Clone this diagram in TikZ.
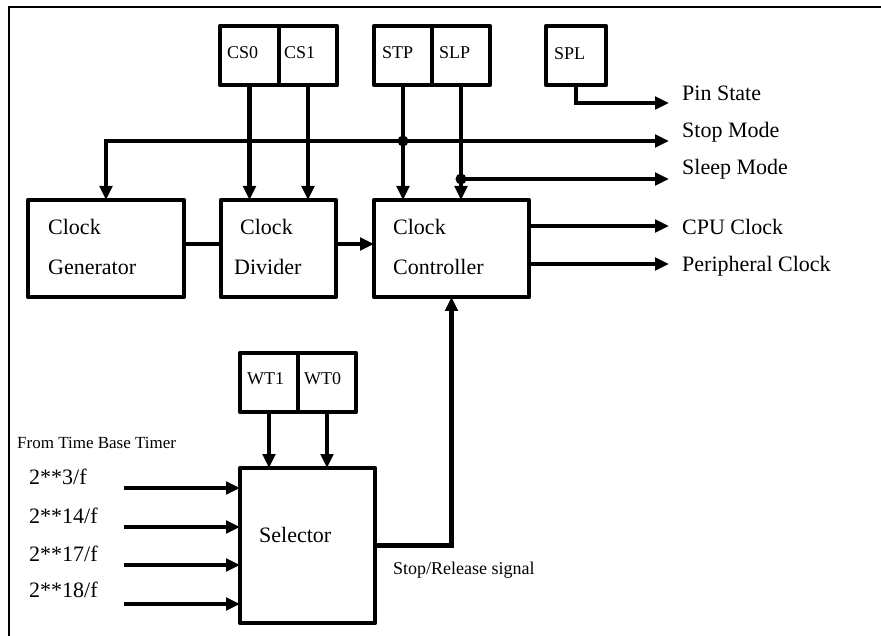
\documentclass[tikz,border=0pt]{standalone}
\usepackage{fontspec}
\setmainfont{Liberation Serif}
\usetikzlibrary{arrows.meta}
\begin{document}
\begin{tikzpicture}[x=1pt,y=-1pt,
  wire/.style={line width=4.5pt},
  sig/.style={wire,-{Triangle[length=14pt,width=12.5pt]}},
  blk/.style={draw,line width=4.5pt,line join=round,rectangle,inner sep=0pt,outer sep=0pt,anchor=north west},
  big/.style={inner sep=0pt,anchor=west,font=\fontsize{22}{26}\selectfont},
  small/.style={inner sep=0pt,anchor=west,font=\fontsize{18}{21}\selectfont},
  dot/.style={fill=black}
]
\useasboundingbox (0,0) rectangle (881,636);
% outer frame (top and left edges)
\draw[line width=2pt] (881,7) -- (9,7) -- (9,636);

% main blocks
\node[blk,minimum width=156pt,minimum height=97pt] (cg)  at (28,200)  {};
\node[blk,minimum width=115pt,minimum height=97pt] (cd)  at (221,200) {};
\node[blk,minimum width=155pt,minimum height=97pt] (cc)  at (374,200) {};
\node[blk,minimum width=135pt,minimum height=155pt] (sel) at (240,468) {};

% register bits
\node[blk,minimum width=59pt,minimum height=59pt] (cs0) at (220,26) {};
\node[blk,minimum width=58pt,minimum height=59pt] (cs1) at (279,26) {};
\node[blk,minimum width=58pt,minimum height=59pt] (stp) at (374,26) {};
\node[blk,minimum width=58pt,minimum height=59pt] (slp) at (432,26) {};
\node[blk,minimum width=60pt,minimum height=59pt] (spl) at (546,26) {};
\node[blk,minimum width=58pt,minimum height=59pt] (wt1) at (240,353) {};
\node[blk,minimum width=58pt,minimum height=59pt] (wt0) at (298,353) {};

% block texts
\node[big] (cgA) at (48,227) {Clock};
\node[big] (cgB) at (48,267) {Generator};
\node[big] (cdA) at (240,227) {Clock};
\node[big] (cdB) at (234,267) {Divider};
\node[big] (ccA) at (393,227) {Clock};
\node[big] (ccB) at (393,267) {Controller};
\node[big] (selT) at (259,535) {Selector};

% register texts
\node[small] (tcs0) at (227,53) {CS0};
\node[small] (tcs1) at (284,53) {CS1};
\node[small] (tstp) at (382,53) {STP};
\node[small] (tslp) at (439,53) {SLP};
\node[small] (tspl) at (554,54) {SPL};
\node[small] (twt1) at (247,379) {WT1};
\node[small] (twt0) at (304,379) {WT0};

% output end points and labels
\coordinate (pinEnd)   at (669,103);
\coordinate (stopEnd)  at (669,141);
\coordinate (sleepEnd) at (669,179);
\coordinate (cpuEnd)   at (669,226);
\coordinate (perEnd)   at (669,264);
\node[big] (lpin)   at (682,93)  {Pin State};
\node[big] (lstop)  at (682,132) {Stop Mode};
\node[big] (lsleep) at (682,169) {Sleep Mode};
\node[big] (lcpu)   at (682,227) {CPU Clock};
\node[big] (lper)   at (682,266) {Peripheral Clock};

% register connections
\draw[sig] (cs0.south) -- (cs0.south |- cd.north);
\draw[sig] (cs1.south) -- (cs1.south |- cd.north);
\draw[sig] (stp.south) -- (stp.south |- cc.north);
\draw[sig] (slp.south) -- (slp.south |- cc.north);
\draw[sig] (spl.south) |- (pinEnd);
\draw[sig] (stp.south |- stopEnd) -| (cg.north);
\draw[sig] (stp.south |- stopEnd) -- (stopEnd);
\fill[dot] (stp.south |- stopEnd) circle (5.5);
\draw[sig] (slp.south |- sleepEnd) -- (sleepEnd);
\fill[dot] (slp.south |- sleepEnd) circle (5.5);

% clock path
\draw[wire] ([yshift=4.5pt]cg.east) -- ([yshift=4.5pt]cd.west);
\draw[sig] ([yshift=4.5pt]cd.east) -- ([yshift=4.5pt]cc.west);
\draw[sig] (cc.east |- cpuEnd) -- (cpuEnd);
\draw[sig] (cc.east |- perEnd) -- (perEnd);

% selector
\draw[sig] (wt1.south) -- (wt1.south |- sel.north);
\draw[sig] (wt0.south) -- (wt0.south |- sel.north);
\draw[sig] (sel.east) -| (cc.south);
\node[small] (lrel) at (393,570) {Stop/Release signal};

\node[inner sep=0pt,anchor=west,font=\fontsize{17}{20}\selectfont] (ltbt) at (17,443) {From Time Base Timer};
\coordinate (in1) at (124,488);
\coordinate (in2) at (124,527);
\coordinate (in3) at (124,565);
\coordinate (in4) at (124,604);
\draw[sig] (in1) -- (in1 -| sel.west);
\draw[sig] (in2) -- (in2 -| sel.west);
\draw[sig] (in3) -- (in3 -| sel.west);
\draw[sig] (in4) -- (in4 -| sel.west);
\node[big] (l1) at (29,477) {2**3/f};
\node[big] (l2) at (29,516) {2**14/f};
\node[big] (l3) at (29,554) {2**17/f};
\node[big] (l4) at (29,590) {2**18/f};
\end{tikzpicture}
\end{document}
